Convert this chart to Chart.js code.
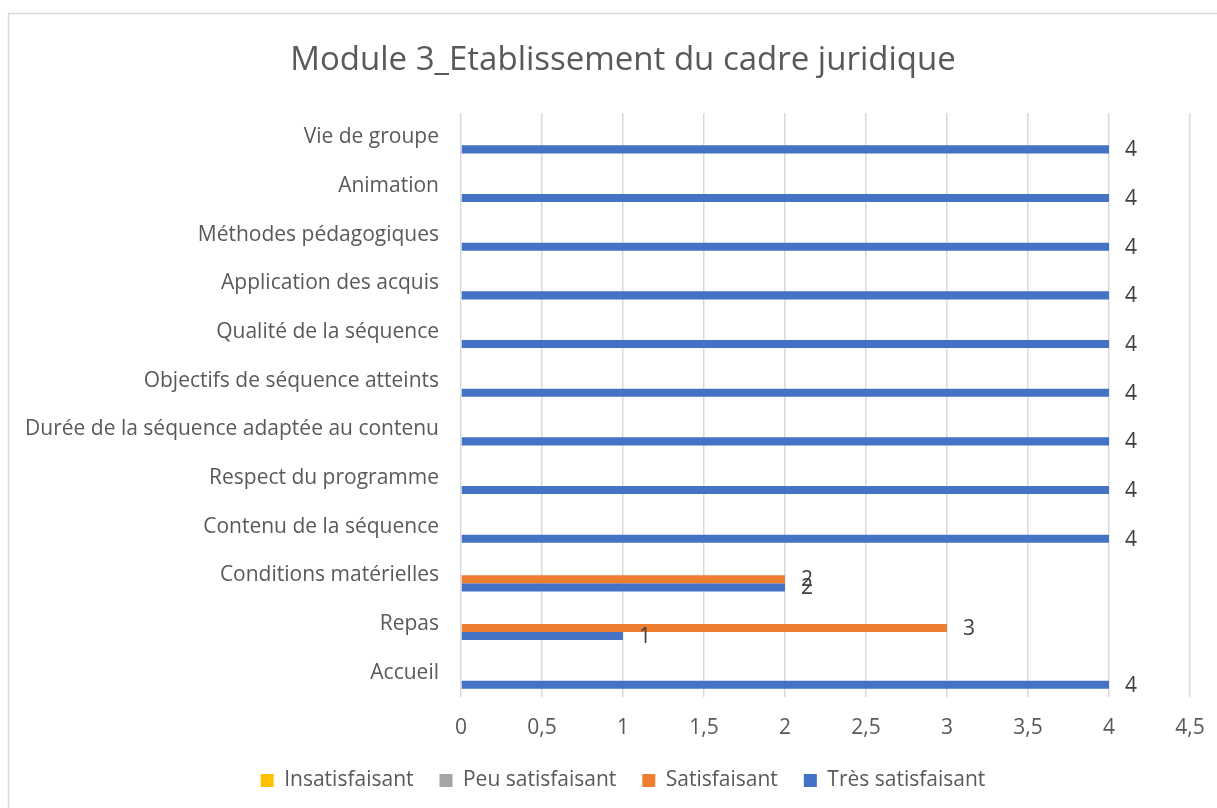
<!DOCTYPE html>
<html lang="fr">
<head>
<meta charset="utf-8">
<title>Module 3_Etablissement du cadre juridique</title>
<script src="https://cdn.jsdelivr.net/npm/chart.js@4.4.1/dist/chart.umd.min.js"></script>
<style>
  html, body { margin: 0; padding: 0; background: #ffffff; overflow: hidden; }
  #wrap { position: relative; width: 1217px; height: 808px; overflow: hidden; }
</style>
</head>
<body>
<div id="wrap"><canvas id="chart"></canvas></div>
<script>
const categories = [
  "Vie de groupe",
  "Animation",
  "Méthodes pédagogiques",
  "Application des acquis",
  "Qualité de la séquence",
  "Objectifs de séquence atteints",
  "Durée de la séquence adaptée au contenu",
  "Respect du programme",
  "Contenu de la séquence",
  "Conditions matérielles",
  "Repas",
  "Accueil",
];

const insatisfaisant = [0, 0, 0, 0, 0, 0, 0, 0, 0, 0, 0, 0];
const peuSatisfaisant = [0, 0, 0, 0, 0, 0, 0, 0, 0, 0, 0, 0];
const satisfaisant = [0, 0, 0, 0, 0, 0, 0, 0, 0, 2, 3, 0];
const tresSatisfaisant = [4, 4, 4, 4, 4, 4, 4, 4, 4, 2, 1, 4];

const xTicks = [0, 0.5, 1, 1.5, 2, 2.5, 3, 3.5, 4, 4.5];

const palette = {
  yellow: "#ffc000",
  gray: "#a5a5a5",
  orange: "#ed7d31",
  blue: "#4472c4",
  text: "#595959",
  label: "#404040",
  grid: "#d9d9d9",
};

const fontFamily = "'Open Sans', 'DejaVu Sans', sans-serif";
const commaFormatter = new Intl.NumberFormat("fr-FR", { maximumFractionDigits: 1 });

// the chart object is wider than the window; it is cropped on the right
const canvasWidth = 1246;
const canvasHeight = 808;

// frame around the chart, like the Excel chart border
const framePlugin = {
  id: "frame",
  beforeDraw(chart) {
    const ctx = chart.ctx;
    ctx.save();
    ctx.fillStyle = "#ffffff";
    ctx.fillRect(0, 0, chart.width, chart.height);
    ctx.strokeStyle = palette.grid;
    ctx.lineWidth = 1.5;
    ctx.strokeRect(8.5, 13.5, 1400, 1000);
    ctx.restore();
  },
};

// value labels at the end of non-zero bars
const valueLabelPlugin = {
  id: "valueLabels",
  afterDatasetsDraw(chart) {
    const ctx = chart.ctx;
    ctx.save();
    ctx.font = `21px ${fontFamily}`;
    ctx.fillStyle = palette.label;
    ctx.textAlign = "left";
    ctx.textBaseline = "middle";
    chart.data.datasets.forEach((dataset, datasetIndex) => {
      const meta = chart.getDatasetMeta(datasetIndex);
      meta.data.forEach((bar, index) => {
        const value = dataset.data[index];
        if (!value) {
          return;
        }
        ctx.fillText(commaFormatter.format(value), bar.x + 16, bar.y + 1);
      });
    });
    ctx.restore();
  },
};

const canvas = document.getElementById("chart");
canvas.width = canvasWidth;
canvas.height = canvasHeight;

new Chart(canvas.getContext("2d"), {
  type: "bar",
  data: {
    labels: categories,
    datasets: [
      { label: "Insatisfaisant", data: insatisfaisant, backgroundColor: palette.yellow },
      { label: "Peu satisfaisant", data: peuSatisfaisant, backgroundColor: palette.gray },
      { label: "Satisfaisant", data: satisfaisant, backgroundColor: palette.orange },
      { label: "Très satisfaisant", data: tresSatisfaisant, backgroundColor: palette.blue },
    ],
  },
  options: {
    indexAxis: "y",
    responsive: false,
    animation: false,
    datasets: {
      bar: {
        categoryPercentage: 0.66,
        barPercentage: 1,
      },
    },
    layout: {
      padding: { left: 0, right: 0, top: 0, bottom: 7 },
    },
    plugins: {
      title: {
        display: true,
        text: "Module 3_Etablissement du cadre juridique",
        color: palette.text,
        font: { family: fontFamily, size: 33, weight: "normal" },
        padding: { top: 40.7, bottom: 32.7 },
      },
      legend: {
        position: "bottom",
        labels: {
          color: palette.text,
          font: { family: fontFamily, size: 21 },
          boxWidth: 13,
          boxHeight: 13,
          padding: 26,
        },
      },
      tooltip: { enabled: false },
    },
    scales: {
      x: {
        min: 0,
        max: 4.5,
        afterBuildTicks(scale) {
          scale.ticks = xTicks.map((value) => ({ value }));
        },
        afterFit(scale) {
          scale.height = 47;
        },
        ticks: {
          color: palette.text,
          font: { family: fontFamily, size: 21 },
          padding: 18,
          callback: (value) => commaFormatter.format(value),
        },
        grid: {
          color: palette.grid,
          lineWidth: 1.5,
          drawTicks: false,
        },
        border: { display: false },
      },
      y: {
        afterFit(scale) {
          scale.width = 461;
        },
        ticks: {
          color: palette.text,
          font: { family: fontFamily, size: 21 },
          padding: 22,
          autoSkip: false,
        },
        grid: { display: false, drawTicks: false },
        border: { display: false },
      },
      // empty right-hand band so the plot ends before the chart's right edge
      yRight: {
        position: "right",
        afterFit(scale) {
          scale.width = canvasWidth - 1190;
        },
        ticks: { display: false },
        grid: { display: false, drawTicks: false },
        border: { display: false },
      },
    },
  },
  plugins: [framePlugin, valueLabelPlugin],
});
</script>
</body>
</html>
